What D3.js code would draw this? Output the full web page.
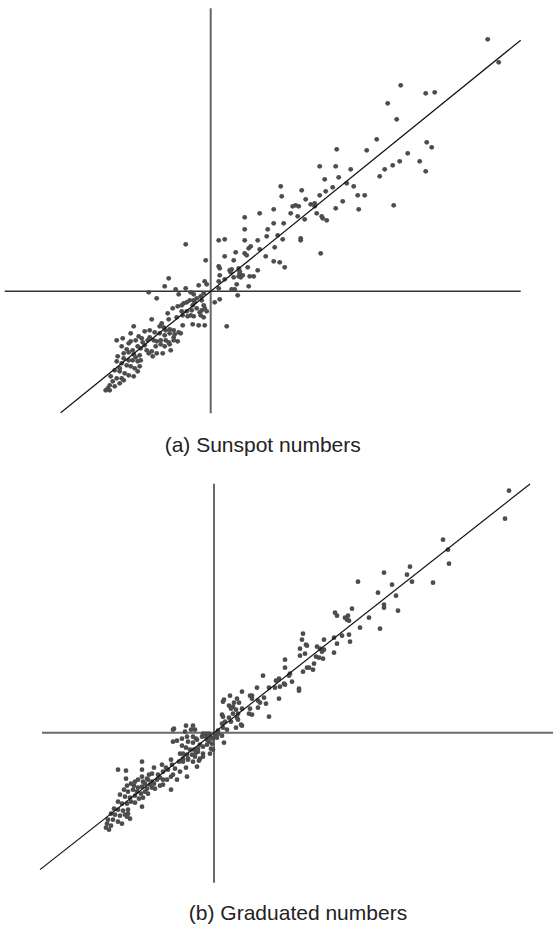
<!DOCTYPE html>
<html>
<head>
<meta charset="utf-8">
<script src="https://cdn.jsdelivr.net/npm/d3@7"></script>
<style>
  html, body { margin: 0; padding: 0; background: #fff; }
  svg { display: block; }
</style>
</head>
<body>
<svg id="chart" width="553" height="927"></svg>
<script>
// Standardised values: x = number in year t, y = number in year t+1 (units of one s.d.)
const sunspotPairs = [
  [2.77,2.52],[2.88,2.29],[1.90,2.06],[2.15,1.98],[2.24,1.99],[1.77,1.88],[1.86,1.72],[2.16,1.49],
  [2.21,1.44],[1.97,1.38],[1.89,1.30],[1.82,1.26],[1.74,1.22],[2.09,1.30],[2.15,1.20],[1.69,1.15],
  [1.66,1.52],[1.56,1.41],[1.26,1.42],[1.83,0.86],[1.09,1.25],[1.25,1.25],[1.40,1.22],[1.14,1.12],
  [1.28,1.14],[1.36,1.08],[1.43,1.05],[1.22,1.04],[1.15,1.00],[1.09,0.96],[0.95,0.92],[0.91,1.01],
  [0.70,1.05],[0.71,0.95],[1.47,0.96],[1.54,0.96],[1.32,0.90],[1.25,0.83],[1.48,0.82],[1.00,0.87],
  [1.04,0.88],[1.04,0.85],[0.88,0.85],[0.85,0.86],[0.82,0.85],[0.63,0.82],[0.80,0.78],[0.87,0.75],
  [0.94,0.72],[1.06,0.78],[1.11,0.75],[1.12,0.73],[1.16,0.71],[0.63,0.68],[0.73,0.68],[0.67,0.56],
  [0.90,0.53],[0.90,0.51],[0.72,0.52],[1.10,0.38],[0.56,0.55],[0.47,0.51],[0.34,0.51],[0.14,0.52],
  [0.08,0.51],[0.49,0.78],[0.34,0.74],[0.34,0.62],[0.57,0.62],[0.49,0.42],[0.38,0.43],[0.40,0.45],
  [0.34,0.38],[0.25,0.39],[0.36,0.36],[0.64,0.44],[0.55,0.35],[0.14,0.35],[0.63,0.30],[0.69,0.29],
  [0.74,0.24],[0.47,0.21],[0.37,0.24],[0.23,0.31],[-0.05,0.31],[0.08,0.25],[0.09,0.23],[0.19,0.21],
  [0.21,0.22],[0.20,0.19],[0.28,0.23],[0.29,0.20],[0.29,0.18],[0.28,0.15],[0.30,0.14],[0.32,0.16],
  [0.39,0.15],[0.43,0.15],[0.09,0.16],[0.23,0.14],[0.14,0.12],[0.08,0.10],[0.26,0.07],[0.38,0.05],
  [0.21,0.02],[0.24,0.02],[0.08,0.03],[0.27,-0.04],[0.09,-0.08],[0.04,-0.11],[0.16,-0.35],[-0.25,0.47],
  [-0.06,0.10],[-0.04,0.07],[-0.12,0.06],[-0.25,0.03],[-0.35,0.02],[-0.17,-0.03],[-0.32,-0.03],[-0.07,-0.02],
  [-0.42,0.13],[-0.46,0.05],[-0.62,-0.01],[-0.54,-0.07],[-0.20,-0.01],[-0.10,-0.05],[-0.14,-0.07],[-0.17,-0.09],
  [-0.21,-0.09],[-0.24,-0.11],[-0.27,-0.12],[-0.29,-0.14],[-0.33,-0.15],[-0.18,-0.14],[-0.16,-0.11],[-0.09,-0.09],
  [-0.07,-0.14],[-0.06,-0.17],[-0.04,-0.20],[-0.09,-0.19],[-0.11,-0.21],[-0.14,-0.17],[-0.19,-0.19],[-0.24,-0.20],
  [-0.29,-0.20],[-0.38,-0.17],[-0.43,-0.22],[-0.28,-0.24],[-0.23,-0.25],[-0.20,-0.24],[-0.17,-0.25],[-0.10,-0.24],
  [-0.07,-0.26],[-0.34,-0.26],[-0.06,-0.34],[-0.18,-0.33],[-0.12,-0.34],[-0.59,-0.28],[-0.42,-0.28],[-0.49,-0.32],
  [-0.28,-0.34],
  [-0.77,-0.35],[-0.51,-0.35],[-0.47,-0.36],[-0.45,-0.39],[-0.41,-0.38],[-0.37,-0.39],[-0.66,-0.40],[-0.61,-0.39],
  [-0.56,-0.41],[-0.80,-0.42],[-0.51,-0.42],[-0.46,-0.44],[-0.41,-0.42],[-0.36,-0.43],[-0.32,-0.41],[-0.30,-0.42],
  [-0.94,-0.49],[-0.88,-0.47],[-0.72,-0.45],[-0.69,-0.47],[-0.80,-0.50],[-0.75,-0.49],[-0.68,-0.51],[-0.63,-0.49],
  [-0.57,-0.49],[-0.54,-0.50],[-0.50,-0.49],[-0.45,-0.49],[-0.42,-0.51],[-0.37,-0.49],[-0.33,-0.50],[-0.37,-0.46],
  [-0.61,-0.46],[-0.50,-0.53],[-0.41,-0.53],[-0.82,-0.52],[-0.66,-0.54],
  [-0.89,-0.55],[-0.84,-0.58],[-0.78,-0.59],[-0.73,-0.55],[-0.70,-0.57],[-0.64,-0.59],[-0.59,-0.60],[-0.55,-0.55],
  [-0.48,-0.62],[-0.40,-0.59],[-0.87,-0.62],[-0.82,-0.61],[-0.77,-0.63],[-0.71,-0.64],[-0.93,-0.65],[-0.58,-0.65],
  [-0.62,-0.62],[-0.54,-0.62],[-0.46,-0.55],
  [-0.75,-0.66],[-0.87,-0.67],[-0.82,-0.69],[-0.78,-0.69],[-0.73,-0.70],[-0.70,-0.69],[-0.71,-0.75],[-0.94,-0.70],
  [-0.89,-0.72],[-0.84,-0.74],[-0.80,-0.75],[-0.91,-0.77],[-0.76,-0.77],
  [-0.96,-0.79],[-0.91,-0.80],[-0.86,-0.82],[-0.82,-0.84],[-0.77,-0.85],[-0.73,-0.80],[-1.00,-0.85],[-0.94,-0.87],
  [-0.89,-0.87],[-0.98,-0.90],[-0.91,-0.92],[-0.87,-0.89],[-1.01,-0.94],[-0.96,-0.95],[-1.03,-0.97],[-1.05,-0.99],
  [-1.01,-0.99]
];

const graduatedPairs = [
  [2.95,2.42],[2.91,2.14],[2.29,1.93],[2.34,1.83],[2.35,1.69],[1.96,1.66],[1.93,1.58],[1.70,1.60],
  [1.44,1.51],[1.98,1.51],[2.19,1.50],[1.78,1.48],[1.64,1.40],[1.82,1.37],[1.70,1.28],[1.70,1.25],
  [1.84,1.22],[1.38,1.24],[1.21,1.20],[1.23,1.17],[1.31,1.15],[1.34,1.17],[1.33,1.13],[1.35,1.12],
  [1.55,1.15],[1.46,1.05],[1.66,1.04],[1.20,0.95],[1.28,0.97],[1.35,0.98],[1.10,0.93],[1.36,0.91],
  [1.23,0.89],[0.89,0.99],[0.88,0.93],[0.92,0.88],[0.93,0.87],[1.03,0.86],[1.06,0.84],[1.08,0.81],
  [1.10,0.83],[1.20,0.80],[0.91,0.79],[0.86,0.77],[1.02,0.76],[1.05,0.75],[1.09,0.74],[0.86,0.84],
  [0.71,0.73],[0.71,0.65],[0.65,0.54],[0.76,0.59],[0.75,0.57],[0.93,0.65],[0.95,0.65],[1.00,0.69],
  [0.89,0.61],[0.99,0.63],[0.85,0.44],[0.85,0.42],[0.62,0.52],[0.70,0.49],[0.71,0.48],[0.78,0.51],
  [0.66,0.46],[0.61,0.45],[0.55,0.45],[0.49,0.57],[0.43,0.45],[0.50,0.35],[0.38,0.34],[0.28,0.41],
  [0.36,0.37],[0.38,0.37],[0.44,0.32],[0.46,0.30],[0.52,0.29],[0.65,0.34],[0.55,0.16],[0.44,0.25],
  [0.36,0.24],[0.35,0.19],[0.38,0.18],[0.16,0.37],[0.23,0.34],[0.09,0.31],[0.10,0.33],[0.15,0.27],
  [0.17,0.24],[0.20,0.30],[0.25,0.30],[0.19,0.26],[0.22,0.23],[0.28,0.24],[0.24,0.19],[0.19,0.19],
  [0.08,0.18],[0.09,0.16],[0.15,0.15],[0.11,0.11],[0.23,0.15],[0.24,0.13],[0.27,0.08],[0.28,0.07],
  [0.22,0.05],[0.08,0.09],[0.09,0.05],[0.17,0.11],[0.13,0.03],[0.04,0.02],[0.04,-0.01],[0.01,-0.03],
  [0.03,-0.05],[-0.01,-0.06],[0.08,-0.03],[0.10,-0.10],[-0.05,-0.01],[-0.08,-0.01],[-0.03,-0.05],
  [-0.41,0.03],[-0.40,0.04],[-0.28,0.07],[-0.21,0.07],[-0.29,0.01],[-0.23,0.03],[-0.19,0.03],[-0.27,-0.04],
  [-0.21,-0.04],[-0.18,-0.06],[-0.37,-0.08],[-0.41,-0.09],[-0.32,-0.06],[-0.26,-0.09],[-0.21,-0.10],[-0.17,-0.07],
  [-0.12,-0.04],[-0.11,-0.01],[-0.08,-0.04],[-0.07,-0.07],[-0.05,-0.09],[-0.02,-0.11],[-0.07,-0.12],[-0.14,-0.12],
  [-0.11,-0.14],[-0.16,-0.16],[-0.01,-0.17],[-0.32,-0.13],[-0.28,-0.15],[-0.24,-0.17],[-0.20,-0.17],[-0.16,-0.19],
  [-0.34,-0.21],[-0.31,-0.21],[-0.27,-0.22],[-0.22,-0.22],[-0.18,-0.20],[-0.11,-0.21],[-0.04,-0.21],[-0.31,-0.26],
  [-0.26,-0.26],[-0.19,-0.24],[-0.14,-0.26],[-0.11,-0.24],[-0.21,-0.29],[-0.15,-0.28],[-0.35,-0.29],[-0.31,-0.29],
  [-0.26,-0.27],[-0.17,-0.34],[-0.03,-0.16],
  [-0.42,-0.32],[-0.43,-0.27],[-0.28,-0.35],[-0.46,-0.37],[-0.39,-0.36],[-0.34,-0.39],[-0.51,-0.39],[-0.48,-0.35],
  [-0.27,-0.44],[-0.43,-0.44],[-0.37,-0.47],[-0.56,-0.42],[-0.54,-0.45],[-0.51,-0.47],[-0.47,-0.47],[-0.41,-0.42],
  [-0.72,-0.29],[-0.72,-0.37],[-0.96,-0.37],[-0.88,-0.38],[-0.60,-0.35],[-0.62,-0.41],[-0.65,-0.42],[-0.67,-0.46],
  [-0.88,-0.46],[-0.52,-0.32],[-0.72,-0.44],[-0.76,-0.47],[-0.71,-0.49],[-0.66,-0.47],[-0.62,-0.49],[-0.57,-0.47],
  [-0.60,-0.51],[-0.64,-0.52],[-0.69,-0.51],[-0.54,-0.53],[-0.51,-0.52],[-0.79,-0.49],[-0.83,-0.51],[-0.87,-0.53],
  [-0.80,-0.53],[-0.76,-0.55],[-0.72,-0.54],[-0.67,-0.56],[-0.62,-0.55],[-0.59,-0.56],[-0.43,-0.57],[-0.90,-0.57],
  [-0.86,-0.59],[-0.81,-0.57],[-0.77,-0.59],[-0.73,-0.61],[-0.69,-0.59],[-0.66,-0.61],[-0.94,-0.62],[-0.89,-0.64],
  [-0.84,-0.65],[-0.79,-0.63],[-0.75,-0.66],[-0.71,-0.65],[-0.96,-0.69],[-0.92,-0.71],[-0.87,-0.71],[-0.83,-0.69],
  [-0.79,-0.70],[-0.72,-0.74],[-1.00,-0.76],[-0.96,-0.77],[-0.91,-0.78],[-0.86,-0.77],[-1.03,-0.81],[-0.99,-0.82],
  [-0.94,-0.83],[-0.89,-0.82],[-0.86,-0.81],[-1.06,-0.87],[-1.01,-0.87],[-0.96,-0.89],[-0.92,-0.91],[-1.07,-0.91],
  [-1.03,-0.93],[-1.05,-0.97],[-1.08,-0.95],[-0.87,-0.84],[-0.84,-0.86]
];

// Axis extents, fitted slopes and fitted-line ranges (data units)
const sunspotXExtent = [-2.06, 3.10];
const sunspotYExtent = [-1.22, 2.83];
const sunspotSlope = 0.81;
const sunspotLineX = [-1.50, 3.10];

const graduatedXExtent = [-1.72, 3.40];
const graduatedYExtent = [-1.50, 2.49];
const graduatedSlope = 0.787;
const graduatedLineX = [-1.74, 3.16];

const captions = ["(a) Sunspot numbers", "(b) Graduated numbers"];

const svg = d3.select("#chart");

function drawPanel(cfg) {
  const { ox, oy, k, xExt, yExt, pairs, slope, lineX, caption, captionY, hColor, hWidth, vColor, vWidth } = cfg;
  const x = d3.scaleLinear().domain(xExt).range([ox + k * xExt[0], ox + k * xExt[1]]);
  const y = d3.scaleLinear().domain(yExt).range([oy - k * yExt[0], oy - k * yExt[1]]);
  const g = svg.append("g");

  // horizontal axis through zero
  g.append("line")
    .attr("x1", x(xExt[0])).attr("x2", x(xExt[1]))
    .attr("y1", y(0)).attr("y2", y(0))
    .attr("stroke", hColor).attr("stroke-width", hWidth);
  // vertical axis through zero
  g.append("line")
    .attr("x1", x(0)).attr("x2", x(0))
    .attr("y1", y(yExt[0])).attr("y2", y(yExt[1]))
    .attr("stroke", vColor).attr("stroke-width", vWidth);

  // points
  g.append("g").selectAll("circle")
    .data(pairs)
    .join("circle")
    .attr("cx", d => x(d[0]))
    .attr("cy", d => y(d[1]))
    .attr("r", 2.4)
    .attr("fill", "#4d4d4d");

  // fitted line through the origin
  const line = d3.line().x(d => x(d)).y(d => y(slope * d));
  g.append("path")
    .attr("d", line(lineX))
    .attr("fill", "none")
    .attr("stroke", "#111")
    .attr("stroke-width", 1.2);

  // caption centred under the horizontal axis
  g.append("text")
    .attr("x", (x(xExt[0]) + x(xExt[1])) / 2)
    .attr("y", captionY)
    .attr("text-anchor", "middle")
    .attr("font-family", "'Liberation Sans', Arial, Helvetica, sans-serif")
    .attr("font-size", 21)
    .attr("fill", "#222")
    .text(caption);
}

drawPanel({
  ox: 210.7, oy: 291.3, k: 100,
  xExt: sunspotXExtent, yExt: sunspotYExtent,
  pairs: sunspotPairs, slope: sunspotSlope, lineX: sunspotLineX,
  caption: captions[0], captionY: 452,
  hColor: "#333", hWidth: 1.4, vColor: "#666", vWidth: 2
});

drawPanel({
  ox: 214, oy: 732.7, k: 100,
  xExt: graduatedXExtent, yExt: graduatedYExtent,
  pairs: graduatedPairs, slope: graduatedSlope, lineX: graduatedLineX,
  caption: captions[1], captionY: 920,
  hColor: "#6a6a6a", hWidth: 2, vColor: "#6a6a6a", vWidth: 2
});
</script>
</body>
</html>
